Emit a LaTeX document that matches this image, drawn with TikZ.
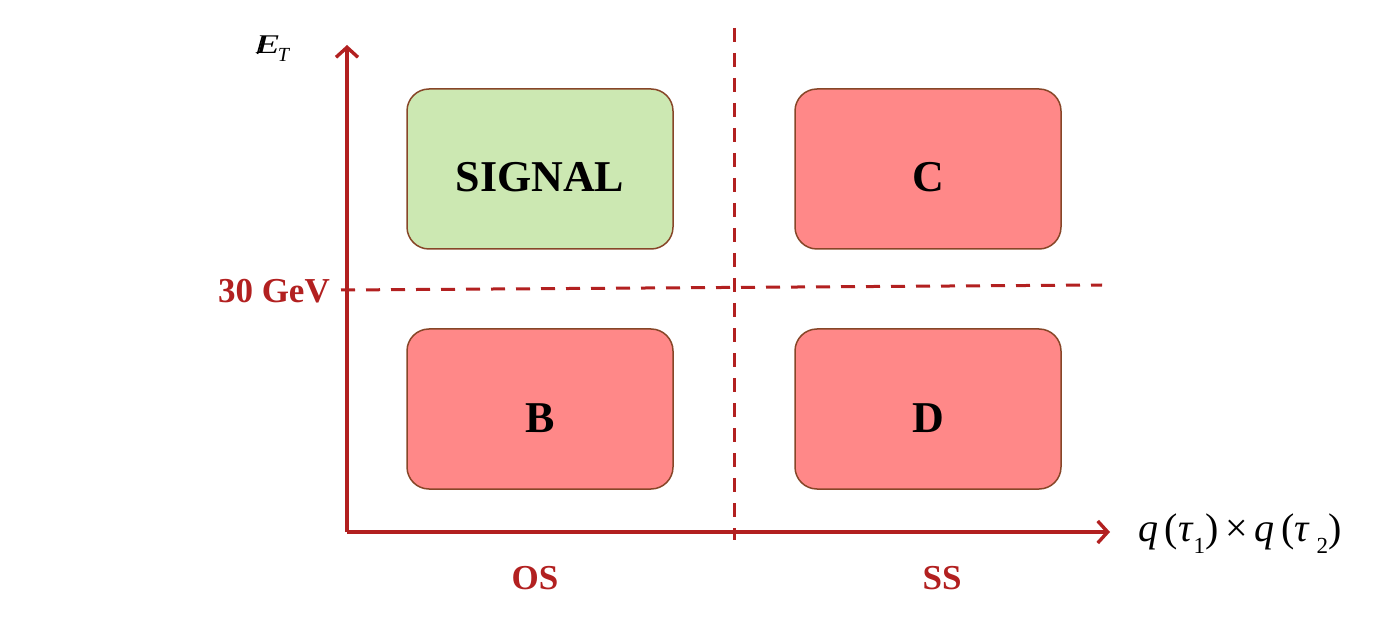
\documentclass[tikz,border=0pt]{standalone}
\usepackage{fontspec}
\setmainfont{Liberation Serif}
\usetikzlibrary{arrows.meta}
\definecolor{axisred}{RGB}{178,32,32}
\definecolor{boxred}{RGB}{255,136,136}
\definecolor{boxgreen}{RGB}{204,232,178}
\definecolor{boxedge}{RGB}{135,70,40}
\newcommand{\regtext}[1]{\raisebox{-23pt}[0pt][0pt]{#1}}
\begin{document}
\begin{tikzpicture}[x=1pt,y=-1pt,
  region/.style={draw=boxedge,line width=1.5pt,rounded corners=22pt,minimum width=266pt,minimum height=160pt,font=\fontsize{44}{48}\selectfont\bfseries,inner sep=0pt},
  axis/.style={draw=axisred,line width=3.4pt,-{Straight Barb[length=10pt,width=22pt]}},
  cut/.style={draw=axisred,line width=3pt,dash pattern=on 14pt off 11pt},
  redlabel/.style={text=axisred,font=\fontsize{35}{38}\selectfont\bfseries,inner sep=0pt}]
\useasboundingbox (0,0) rectangle (1375,617);
\node[region,fill=boxgreen] (sig) at (540,169) {\regtext{SIGNAL}};
\node[region,fill=boxred] (c) at (928,169) {\regtext{C}};
\node[region,fill=boxred] (b) at (540,409) {\regtext{B}};
\node[region,fill=boxred] (d) at (928,409) {\regtext{D}};
\coordinate (o) at (347,532);
\coordinate (ytop) at (347,45);
\coordinate (xend) at (1110,532);
\coordinate (vtop) at (734,28);
\coordinate (vbot) at (734,540);
\coordinate (hl) at (341,290);
\coordinate (hr) at (1102,285);
\draw[cut] (vtop) -- (vbot);
\draw[cut] (hl) -- (hr);
\draw[axis] (o) -- (ytop);
\draw[axis] (o) -- (xend);
\node[redlabel,anchor=east] (gev) at (330,291) {30 GeV};
\node[redlabel] (os) at (535,578) {OS};
\node[redlabel] (ss) at (942,578) {SS};
\node[font=\fontsize{27}{30}\selectfont,inner sep=0pt,anchor=base west] (et) at (256,54) {\scalebox{1.4}[1]{\itshape E}\hspace{-0.05em}\raisebox{-0.28em}{\fontsize{20}{22}\selectfont\textit{T}}};
\draw[line width=1.6pt] ([xshift=1.5pt,yshift=0pt]et.base west) -- ([xshift=6.5pt,yshift=18pt]et.base west);
\node[font=\fontsize{40}{44}\selectfont,inner sep=0pt,anchor=west] (xl) at (1138,534) {\textit{q}\,(\textit{τ}\raisebox{-0.3em}{\fontsize{23}{25}\selectfont 1})\,×\,\textit{q}\,(\textit{τ}\,\raisebox{-0.3em}{\fontsize{23}{25}\selectfont 2})};
\end{tikzpicture}
\end{document}
